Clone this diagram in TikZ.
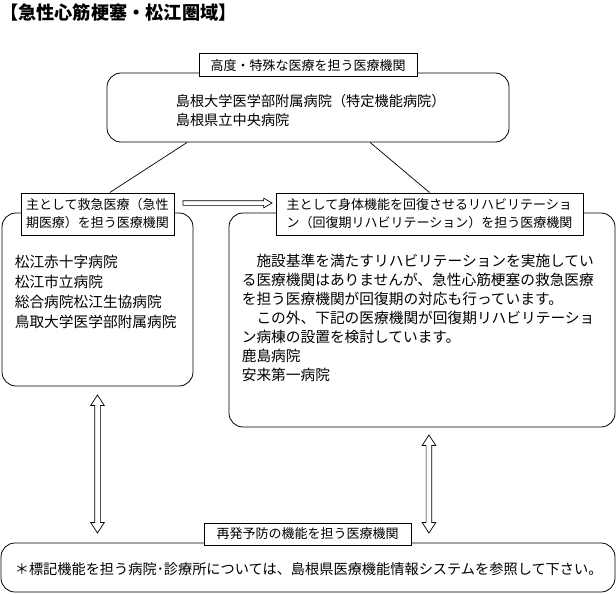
\documentclass[tikz,border=0pt]{standalone}
\usepackage{fontspec}
\newfontfamily\jp{Noto Sans CJK JP}
\usetikzlibrary{shapes.arrows,calc}

\begin{document}
\begin{tikzpicture}[x=1pt,y=-1pt]
	\tikzstyle{panel}=[draw, line width=0.8pt, rounded corners=14pt, inner sep=0pt]
	\tikzstyle{labelbox}=[draw, line width=1pt, fill=white, inner sep=0pt, align=left, font=\jp\fontsize{13}{18}\selectfont]
	\tikzstyle{bodytext}=[inner sep=0pt, align=left, anchor=west, font=\jp\fontsize{14.7}{20}\selectfont]
	\tikzstyle{harrow}=[draw, fill=white, line width=0.7pt, single arrow, inner sep=0pt, text height=2pt, text depth=2pt, single arrow head extend=2.5pt, single arrow tip angle=60]
	\tikzstyle{varrow}=[draw, fill=white, line width=0.7pt, double arrow, inner sep=0pt, text height=2.5pt, text depth=2.5pt, double arrow head extend=4pt, double arrow tip angle=66, rotate=90]
	\useasboundingbox (0,0) rectangle (616,594);

	\node[anchor=west, inner sep=0pt, font=\jp\bfseries\fontsize{18.2}{22}\selectfont] (title) at (0,12.5) {【急性心筋梗塞・松江圏域】};

	% boxes
	\node[panel, minimum width=402pt, minimum height=69pt] (top) at (308,107.5) {};
	\node[panel, minimum width=191pt, minimum height=173pt] (lbox) at (97.5,299.5) {};
	\node[panel, minimum width=386pt, minimum height=214pt] (rbox) at (422,320) {};
	\node[panel, minimum width=614pt, minimum height=49pt] (bbox) at (308,567.5) {};

	% headings
	\node[labelbox, minimum width=218pt, minimum height=23pt] (toplab) at (308,65.5) {高度・特殊な医療を担う医療機関};
	\node[labelbox, minimum width=153pt, minimum height=42pt] (llab) at (97.5,214) {主として救急医療（急性\\期医療）を担う医療機関};
	\node[labelbox, minimum width=307pt, minimum height=42pt] (rlab) at (429.5,214) {主として身体機能を回復させるリハビリテーショ\\ン（回復期リハビリテーション）を担う医療機関};
	\node[labelbox, minimum width=207pt, minimum height=22pt] (blab) at (307.5,534) {再発予防の機能を担う医療機関};

	% texts
	\node[bodytext, font=\jp\fontsize{14.2}{19}\selectfont] (toptext) at ($(top.west)+(69,3)$) {島根大学医学部附属病院（特定機能病院）\\島根県立中央病院};
	\node[bodytext] (ltext) at ($(lbox.north west)+(13,79)$) {松江赤十字病院\\松江市立病院\\総合病院松江生協病院\\鳥取大学医学部附属病院};
	\node[bodytext, font=\jp\fontsize{14.7}{19}\selectfont] (rtext) at ($(rbox.north west)+(13,105)$) {　施設基準を満たすリハビリテーションを実施してい\\る医療機関はありませんが、急性心筋梗塞の救急医療\\を担う医療機関が回復期の対応も行っています。\\　この外、下記の医療機関が回復期リハビリテーショ\\ン病棟の設置を検討しています。\\鹿島病院\\安来第一病院};
	\node[bodytext, font=\jp\fontsize{14.2}{19}\selectfont] (btext) at ($(bbox.west)+(14,2)$) {＊標記機能を担う病院･診療所については、島根県医療機能情報システムを参照して下さい。};

	% links
	\draw[line width=0.7pt] ($(top.south west)!0.2!(top.south east)$) -- ($(llab.north west)!0.58!(llab.north east)$);
	\draw[line width=0.7pt] ($(top.south west)!0.654!(top.south east)$) -- (rlab.north);

	\coordinate (ha1) at ($(llab.east)+(7,-11)$);
	\coordinate (ha2) at ($(rlab.west)+(-6,-11)$);
	\node[harrow, minimum height=89pt] (arrh) at ($(ha1)!0.5!(ha2)$) {};

	\coordinate (va1) at ($(lbox.south)+(0,9)$);
	\coordinate (va2) at ($(va1|-bbox.north)+(0,-10)$);
	\node[varrow, minimum height=138pt] (arrl) at ($(va1)!0.5!(va2)$) {};

	\coordinate (vb1) at ($(rbox.south west)!0.518!(rbox.south east)+(0,8)$);
	\coordinate (vb2) at ($(vb1|-bbox.north)+(0,-10)$);
	\node[varrow, minimum height=98pt] (arrr) at ($(vb1)!0.5!(vb2)$) {};

\end{tikzpicture}
\end{document}
